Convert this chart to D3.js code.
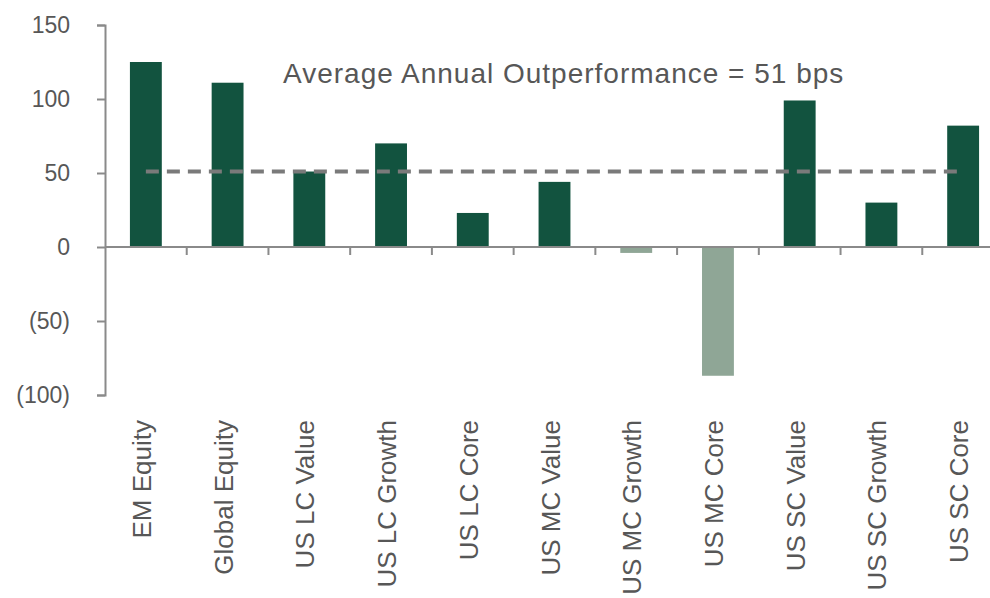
<!DOCTYPE html>
<html>
<head>
<meta charset="utf-8">
<script src="https://cdn.jsdelivr.net/npm/d3@7"></script>
<style>
  body { margin: 0; background: #fff; }
  svg { display: block; font-family: "Liberation Sans", Arial, sans-serif; }
</style>
</head>
<body>
<script>
// chart data
var categories = ["EM Equity", "Global Equity", "US LC Value", "US LC Growth", "US LC Core",
    "US MC Value", "US MC Growth", "US MC Core", "US SC Value", "US SC Growth", "US SC Core"];
var outperformance = [125, 111, 51, 70, 23, 44, -4, -87, 99, 30, 82];
var average = 51;
var yTicks = [-100, -50, 0, 50, 100, 150];
var note = "Average Annual Outperformance = 51 bps";

var width = 990, height = 598;
var textColor = "#575757";
var axisColor = "#8a8a8a";

var svg = d3.select("body").append("svg")
    .attr("width", width)
    .attr("height", height);

// scales
var x = d3.scaleBand()
    .domain(categories)
    .range([105, 1004])
    .paddingInner(0.61)
    .paddingOuter(0.305);

var y = d3.scaleLinear()
    .domain([-100, 150])
    .range([395, 25]);

// y axis
var yAxis = d3.axisLeft(y)
    .tickValues(yTicks)
    .tickSize(8)
    .tickSizeOuter(8)
    .tickPadding(27)
    .tickFormat(function(d) {
        return d < 0 ? "(" + Math.abs(d) + ")" : d;
    });

var gy = svg.append("g")
    .attr("transform", "translate(" + x.range()[0] + ",0)")
    .call(yAxis);
gy.selectAll("path, line").attr("stroke", axisColor).attr("stroke-width", 2);
gy.selectAll("text")
    .attr("fill", textColor)
    .style("font-size", "23px");

// bars
svg.selectAll(".bar")
    .data(categories)
    .enter().append("rect")
    .attr("class", "bar")
    .attr("x", function(d) { return x(d); })
    .attr("width", x.bandwidth())
    .attr("y", function(d, i) { return y(Math.max(0, outperformance[i])); })
    .attr("height", function(d, i) { return Math.abs(y(outperformance[i]) - y(0)); })
    .attr("fill", function(d, i) { return outperformance[i] < 0 ? "#8fa696" : "#12533f"; });

// zero line with category separators
var gap = (x.step() - x.bandwidth()) / 2;
svg.append("line")
    .attr("x1", x.range()[0])
    .attr("x2", width)
    .attr("y1", y(0))
    .attr("y2", y(0))
    .attr("stroke", axisColor)
    .attr("stroke-width", 2);

svg.selectAll(".sep")
    .data(categories.slice(1))
    .enter().append("line")
    .attr("class", "sep")
    .attr("x1", function(d) { return x(d) - gap; })
    .attr("x2", function(d) { return x(d) - gap; })
    .attr("y1", y(0))
    .attr("y2", y(0) + 8)
    .attr("stroke", axisColor)
    .attr("stroke-width", 2);

// average line
svg.append("line")
    .attr("x1", x(categories[0]) + x.bandwidth() / 2)
    .attr("x2", x(categories[categories.length - 1]) + x.bandwidth() / 2 - 3)
    .attr("y1", y(average))
    .attr("y2", y(average))
    .attr("stroke", "#7a7a7a")
    .attr("stroke-width", 4)
    .attr("stroke-dasharray", "13,8");

svg.append("text")
    .attr("x", 283)
    .attr("y", y(150) + 58)
    .attr("fill", textColor)
    .style("font-size", "28px")
    .style("letter-spacing", "1px")
    .text(note);

// category labels
svg.selectAll(".cat")
    .data(categories)
    .enter().append("text")
    .attr("class", "cat")
    .attr("transform", function(d) {
        return "translate(" + (x(d) + x.bandwidth() / 2 + 5) + ",420) rotate(-90)";
    })
    .attr("text-anchor", "end")
    .attr("fill", textColor)
    .style("font-size", "26px")
    .text(function(d) { return d; });
</script>
</body>
</html>
